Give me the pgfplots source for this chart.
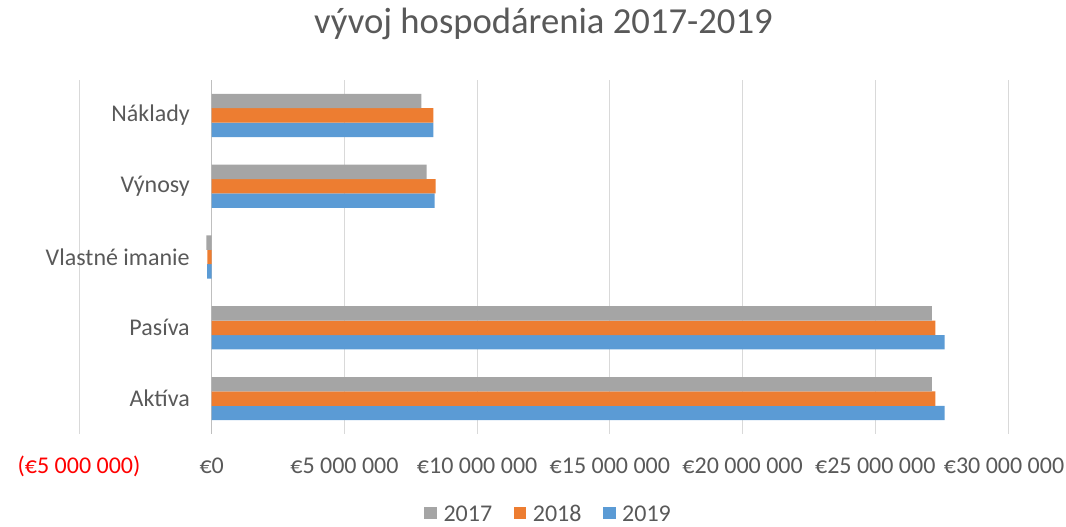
\documentclass[border=0pt]{standalone}
\usepackage{fontspec}
\setmainfont{Carlito}
\usepackage{pgfplots}
\pgfplotsset{compat=1.18}
\definecolor{txt}{HTML}{595959}
\definecolor{gridc}{HTML}{D9D9D9}
\definecolor{axisc}{HTML}{BFBFBF}
\definecolor{cA}{HTML}{A5A5A5}
\definecolor{cB}{HTML}{ED7D31}
\definecolor{cC}{HTML}{5B9BD5}
\pgfplotsset{mybar/.style={fill=#1, draw=none, legend image code/.code={\fill[#1] (0pt,-4.6pt) rectangle (9.5pt,4.6pt);}}}
\begin{document}
\begin{tikzpicture}
\useasboundingbox (0,0) rectangle (799.5pt,395.25pt);
\begin{axis}[
 at={(59.25pt,69.75pt)}, anchor=south west,
 scale only axis, width=696.75pt, height=265.5pt,
 xbar=0pt, bar width=10.8pt,
 xmin=-5, xmax=30, ymin=-0.5, ymax=4.5,
 enlargelimits=false,
 y dir=reverse,
 axis line style={draw=none},
 major tick length=0pt,
 xmajorgrids, grid style={draw=gridc, line width=0.75pt},
 extra x ticks={0}, extra x tick labels={},
 extra x tick style={grid style={draw=axisc, line width=0.75pt}},
 xtick={-5,0,5,10,15,20,25,30},
 xticklabels={{\color{red}(€5 000 000)}, €0, €5 000 000, €10 000 000, €15 000 000, €20 000 000, €25 000 000, {€30 000 000\kern6pt}},
 ytick={0,1,2,3,4},
 yticklabels={Náklady, Výnosy, Vlastné imanie, Pasíva, Aktíva},
 ticklabel style={font=\fontsize{18}{22}\selectfont, text=txt},
 xticklabel style={anchor=center, yshift=-24pt},
 yticklabel style={anchor=east, inner sep=0pt, xshift=83.25pt},
 title={vývoj hospodárenia 2017-2019},
 title style={font=\fontsize{27.5}{33}\selectfont, text=txt, at={(0.5,1)}, anchor=center, yshift=36pt},
 reverse legend,
 legend style={at={(0.5,0)}, anchor=center, yshift=-59.5pt, xshift=4pt, draw=none, fill=none,
   legend columns=3, font=\fontsize{18}{22}\selectfont, text=txt,
   nodes={text height=12.5pt, text depth=0pt},
   /tikz/every odd column/.append style={column sep=3pt},
   /tikz/every even column/.append style={column sep=14pt}},
]
\addplot[mybar=cC] coordinates {(8.35,0) (8.40,1) (-0.17,2) (27.61,3) (27.61,4)};
\addlegendentry{2019}
\addplot[mybar=cB] coordinates {(8.35,0) (8.44,1) (-0.16,2) (27.26,3) (27.26,4)};
\addlegendentry{2018}
\addplot[mybar=cA] coordinates {(7.90,0) (8.10,1) (-0.20,2) (27.13,3) (27.13,4)};
\addlegendentry{2017}
\end{axis}
\end{tikzpicture}
\end{document}
